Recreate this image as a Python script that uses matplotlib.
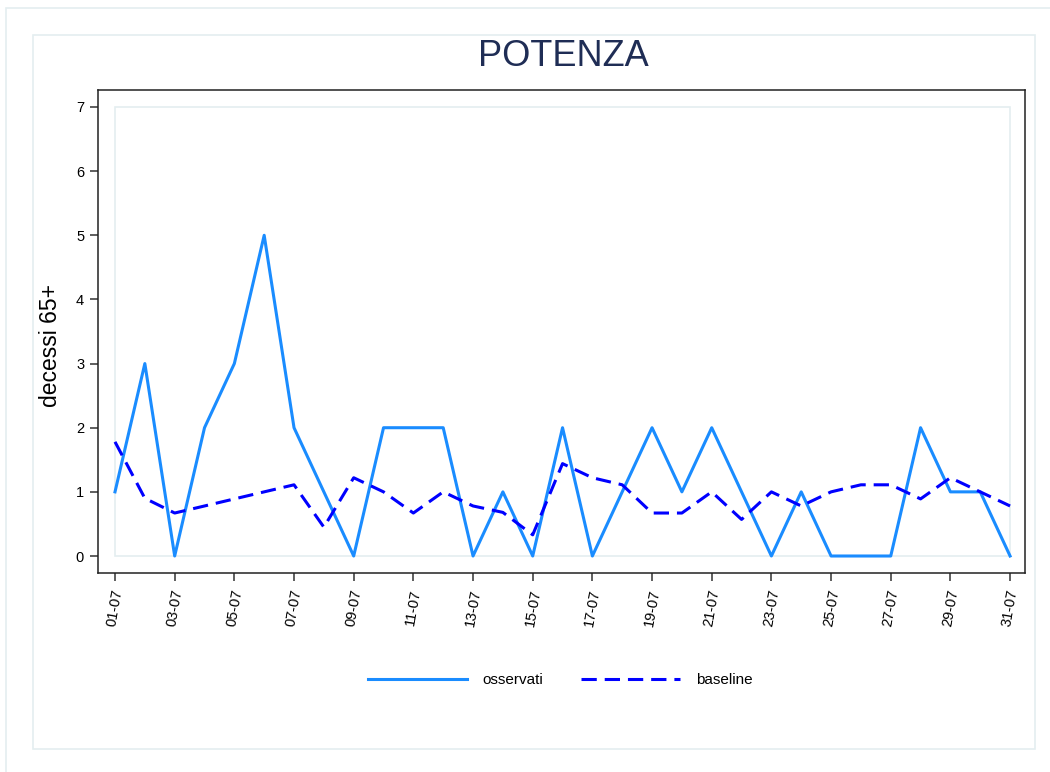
import matplotlib.pyplot as plt
from matplotlib.patches import Rectangle

plt.rcParams['font.family'] = ['Liberation Sans', 'DejaVu Sans']

# dati luglio - Potenza
giorni = list(range(1, 32))
etichette = [f"{g:02d}-07" for g in giorni]
osservati = [1, 3, 0, 2, 3, 5, 2, 1, 0, 2, 2, 2, 0, 1, 0, 2,
             0, 1, 2, 1, 2, 1, 0, 1, 0, 0, 0, 2, 1, 1, 0]
baseline = [1.78, 0.9, 0.67, 0.78, 0.89, 1.0, 1.11, 0.45, 1.22, 1.0,
            0.67, 1.0, 0.78, 0.68, 0.33, 1.44, 1.22, 1.11, 0.67, 0.67,
            1.0, 0.57, 1.0, 0.78, 1.0, 1.11, 1.11, 0.89, 1.22, 1.0, 0.78]

W, H = 1050, 772
fig = plt.figure(figsize=(W / 100, H / 100), dpi=100)

# cornici esterne chiare
bordo = '#e4eef0'
fig.patches.append(Rectangle((6 / W, -0.05), 1.1, 1 - 8 / H + 0.05, transform=fig.transFigure,
                             fill=False, edgecolor=bordo, lw=1.2))
fig.patches.append(Rectangle((33 / W, 1 - 749 / H), 1002 / W, 714 / H, transform=fig.transFigure,
                             fill=False, edgecolor=bordo, lw=1.2))

ax = fig.add_axes([98 / W, 1 - 573 / H, 927 / W, 483 / H])
ax.set_xlim(0.43, 31.5)
ax.set_ylim(-0.265, 7.265)

# area del grafico
ax.add_patch(Rectangle((giorni[0], 0), giorni[-1] - giorni[0], 7,
                       fill=False, edgecolor='#e4eef0', lw=1.2, zorder=1))

ax.plot(giorni, osservati, color='#1a8cff', lw=2.2, label='osservati', zorder=3)
ax.plot(giorni, baseline, color='#0000ff', lw=2.2, dashes=(5, 2.6), label='baseline', zorder=3)

for s in ax.spines.values():
    s.set_color('#222222')
    s.set_linewidth(1.1)

ax.set_yticks(range(0, 8))
ax.set_xticks(giorni[::2])
ax.set_xticklabels(etichette[::2], rotation=80, fontsize=10.5)
ax.tick_params(axis='both', direction='out', length=6, width=1.1, color='#333333', labelsize=10.5, pad=4)
ax.tick_params(axis='x', pad=5)

ax.set_ylabel('decessi 65+', fontsize=16.5)
ax.yaxis.set_label_coords(-0.039, 0.47)
fig.text(563 / W, 1 - 57 / H, 'POTENZA', fontsize=26, color='#1f2d55', ha='center', va='center')

fig.legend(loc='center', bbox_to_anchor=(560 / W, 1 - 680 / H), ncol=2, frameon=False,
           fontsize=11, handlelength=6.5, handletextpad=1.0, columnspacing=2.5)

fig.savefig('out.png', dpi=100)
